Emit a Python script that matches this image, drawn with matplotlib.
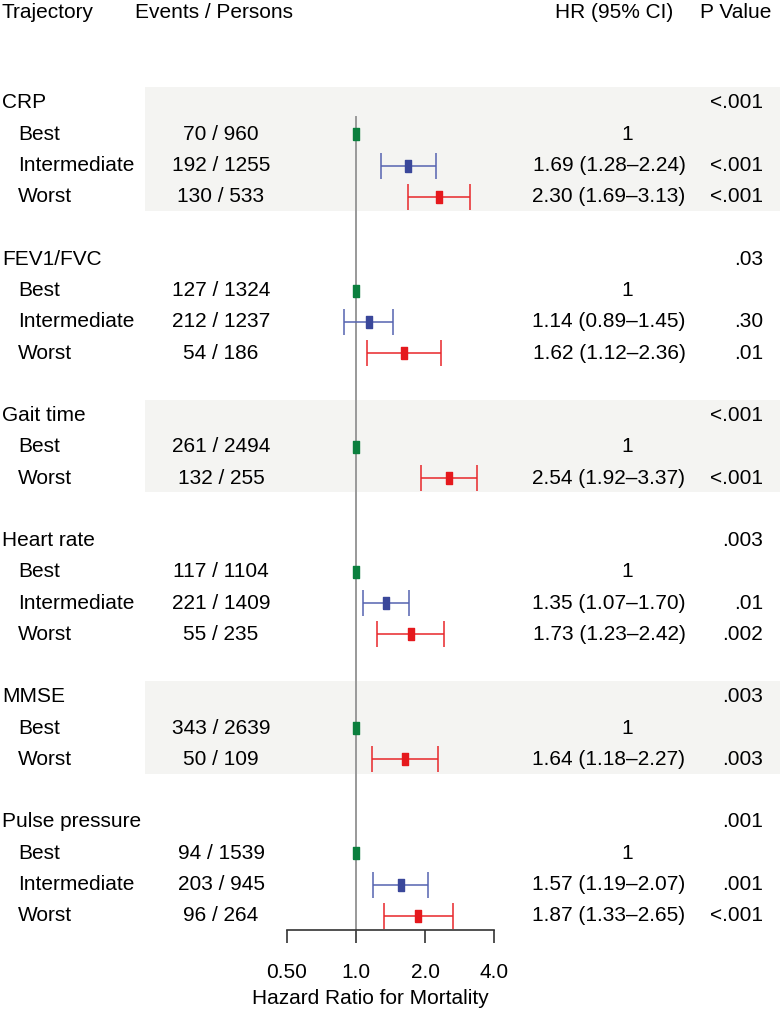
import numpy as np
import matplotlib
matplotlib.use("Agg")
from matplotlib import pyplot as plt

plt.rcParams['font.family'] = ['Liberation Sans', 'DejaVu Sans']

# data
groups = ["CRP", "FEV1/FVC", "Gait time", "Heart rate", "MMSE", "Pulse pressure"]
group_p = ["<.001", ".03", "<.001", ".003", ".003", ".001"]
levels = [
    ["Best", "Intermediate", "Worst"],
    ["Best", "Intermediate", "Worst"],
    ["Best", "Worst"],
    ["Best", "Intermediate", "Worst"],
    ["Best", "Worst"],
    ["Best", "Intermediate", "Worst"],
]
events = [
    ["70 / 960", "192 / 1255", "130 / 533"],
    ["127 / 1324", "212 / 1237", "54 / 186"],
    ["261 / 2494", "132 / 255"],
    ["117 / 1104", "221 / 1409", "55 / 235"],
    ["343 / 2639", "50 / 109"],
    ["94 / 1539", "203 / 945", "96 / 264"],
]
hr = [
    [1.0, 1.69, 2.30],
    [1.0, 1.14, 1.62],
    [1.0, 2.54],
    [1.0, 1.35, 1.73],
    [1.0, 1.64],
    [1.0, 1.57, 1.87],
]
lo = [
    [1.0, 1.28, 1.69],
    [1.0, 0.89, 1.12],
    [1.0, 1.92],
    [1.0, 1.07, 1.23],
    [1.0, 1.18],
    [1.0, 1.19, 1.33],
]
hi = [
    [1.0, 2.24, 3.13],
    [1.0, 1.45, 2.36],
    [1.0, 3.37],
    [1.0, 1.70, 2.42],
    [1.0, 2.27],
    [1.0, 2.07, 2.65],
]
pvals = [
    ["", "<.001", "<.001"],
    ["", ".30", ".01"],
    ["", "<.001"],
    ["", ".01", ".002"],
    ["", ".003"],
    ["", ".001", "<.001"],
]

colors = {"Best": "#0b7f3e", "Intermediate": "#3a479a", "Worst": "#e5191d"}
line_colors = {"Best": "#0b7f3e", "Intermediate": "#5563b0", "Worst": "#e8262a"}

W, H = 780, 1013
y0, dy = 103, 31.26          # pixel of first row, pixel per row
row_top = -y0 / dy
row_bot = (H - y0) / dy
axis_px = 930
row_axis = (axis_px - y0) / dy

fig = plt.figure(figsize=(W / 100, H / 100), dpi=100)

# background axes: x in pixels, y in rows
bg = fig.add_axes([0, 0, 1, 1])
bg.set_xlim(0, W)
bg.set_ylim(row_bot, row_top)
bg.axis("off")

# forest axes: log2 x, same row scale
x_left, x_right = 287, 494
ax = fig.add_axes([x_left / W, (H - axis_px) / H, (x_right - x_left) / W, axis_px / H])
ax.set_xscale("log", base=2)
ax.set_xlim(0.5, 4.0)
ax.set_ylim(row_axis, row_top)
ax.patch.set_alpha(0)
for s in ["left", "top", "right"]:
    ax.spines[s].set_visible(False)
ax.spines["bottom"].set_color("#333333")
ax.spines["bottom"].set_linewidth(1.2)
ax.set_yticks([])
ax.set_xticks([0.5, 1, 2, 4])
ax.set_xticklabels(["0.50", "1.0", "2.0", "4.0"], fontsize=15)
ax.xaxis.set_minor_locator(matplotlib.ticker.NullLocator())
ax.tick_params(axis="x", direction="out", length=9.5, width=1.2, color="#333333", pad=14)

fs = 15
hdr_row = (12 - y0) / dy
bg.text(2, hdr_row, "Trajectory", fontsize=fs, va="center", ha="left")
bg.text(135, hdr_row, "Events / Persons", fontsize=fs, va="center", ha="left")
bg.text(614, hdr_row, "HR (95% CI)", fontsize=fs, va="center", ha="center")
bg.text(700, hdr_row, "P Value", fontsize=fs, va="center", ha="left")

rect = [(-7, -12), (7, -12), (7, 12), (-7, 12), (-7, -12)]

row = 0
for g in range(len(groups)):
    n = len(levels[g])
    if g % 2 == 0:
        bg.axhspan(row - 0.5, row + n + 0.45, xmin=145 / W, xmax=1, color="#f4f4f2", lw=0, zorder=0)
    bg.text(2, row, groups[g], fontsize=fs, va="center", ha="left")
    bg.text(763, row, group_p[g], fontsize=fs, va="center", ha="right")
    for k in range(n):
        r = row + 1 + k
        lev = levels[g][k]
        bg.text(18, r, lev, fontsize=fs, va="center", ha="left")
        bg.text(221, r, events[g][k], fontsize=fs, va="center", ha="center")
        if lev == "Best":
            bg.text(627, r, "1", fontsize=fs, va="center", ha="center")
            ax.plot(hr[g][k], r, marker=rect, markersize=8.6, color=colors[lev],
                    linestyle="None", zorder=4, clip_on=False)
        else:
            bg.text(609, r, f"{hr[g][k]:.2f} ({lo[g][k]:.2f}\u2013{hi[g][k]:.2f})",
                    fontsize=fs, va="center", ha="center")
            bg.text(763, r, pvals[g][k], fontsize=fs, va="center", ha="right")
            ax.errorbar(hr[g][k], r, xerr=[[hr[g][k] - lo[g][k]], [hi[g][k] - hr[g][k]]],
                        fmt="none", ecolor=line_colors[lev], elinewidth=1.1,
                        capsize=9.4, capthick=1.1, zorder=3, clip_on=False)
            ax.plot(hr[g][k], r, marker=rect, markersize=8.6, color=colors[lev],
                    linestyle="None", zorder=4, clip_on=False)
    row += n + 2

# reference line at HR = 1
ax.plot([1, 1], [(117 - y0) / dy, row_axis], color="#999999", lw=1.4, zorder=2, clip_on=False)

fig.text(370 / W, 1 - 998 / H, "Hazard Ratio for Mortality", fontsize=fs, ha="center", va="center")

fig.savefig("out.png", dpi=100)
